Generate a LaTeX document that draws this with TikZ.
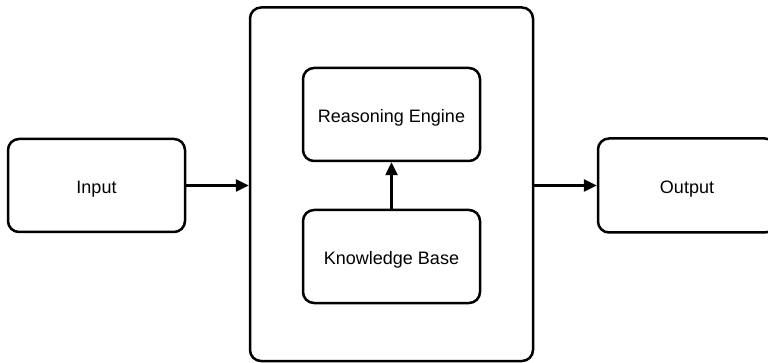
\documentclass[tikz,border=0pt]{standalone}
\usepackage{fontspec}
\setmainfont{Liberation Sans}
\usetikzlibrary{arrows.meta}
\begin{document}
\begin{tikzpicture}[x=1pt,y=-1pt,
  block/.style={draw=black, line width=2.5pt, rounded corners=11pt,
    inner sep=0pt, font=\fontsize{18}{21}\selectfont, fill=white,
    text height=16.5pt, text depth=0pt},
  link/.style={line width=2.5pt, -{Triangle[length=13pt,width=12pt]}}]
  \useasboundingbox (0,0) rectangle (768,363);
  \clip (0,0) rectangle (768,363);
  \fill[white] (0,0) rectangle (768,363);

  % outer container
  \node[block, minimum width=283pt, minimum height=353.5pt] (sys) at (391.5,184.25) {};
  % inner components
  \node[block, minimum width=177pt, minimum height=93pt] (re) at (391.5,114.5) {Reasoning Engine};
  \node[block, minimum width=177pt, minimum height=93pt] (kb) at (391.5,256.5) {Knowledge Base};
  % input and output
  \node[block, minimum width=177pt, minimum height=93pt] (in) at (96.5,185.5) {Input};
  \node[block, minimum width=178pt, minimum height=94pt] (out) at (687,185.5) {Output};

  % connectors
  \draw[link] (in.east) -- (in.east -| sys.west);
  \draw[link] (sys.east |- out.west) -- (out.west);
  \draw[link] (kb.north) -- (re.south);
\end{tikzpicture}
\end{document}
